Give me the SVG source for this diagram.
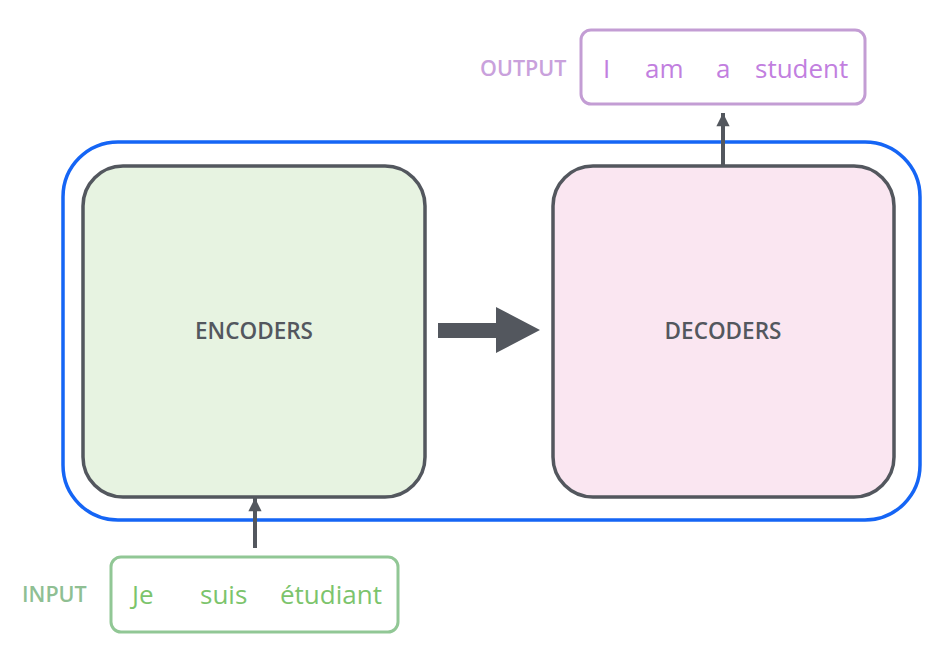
<svg xmlns="http://www.w3.org/2000/svg" width="948" height="646" viewBox="0 0 948 646">
<style>
.box{stroke:#53575e;stroke-width:3.5}
.lbl{font-family:"Open Sans","Liberation Sans",sans-serif;font-weight:600;font-size:22.5px;fill:#53575e;text-anchor:middle}
.word{font-family:"Open Sans","Liberation Sans",sans-serif;font-size:26px}
.out{fill:#c27fdf}
.in{fill:#7cc46c}
.side{font-family:"Open Sans","Liberation Sans",sans-serif;font-weight:600;font-size:21.5px}
.conn{stroke:#53575e;fill:none}
</style>
<defs>
<marker id="ah" viewBox="0 0 10 10" refX="10" refY="5" markerWidth="3.5" markerHeight="3.3" orient="auto" markerUnits="strokeWidth">
<path d="M0,0 L10,5 L0,10 z" fill="#53575e"/>
</marker>
</defs>
<rect width="948" height="646" fill="#ffffff"/>
<g id="transformer">
<rect x="63" y="142" width="857" height="378" rx="55" fill="none" stroke="#1565f5" stroke-width="3.5"/>
</g>
<g id="encoders">
<rect class="box" x="83" y="166" width="342" height="331" rx="40" fill="#e7f3e1"/>
<text class="lbl" x="254" y="339">ENCODERS</text>
</g>
<g id="decoders">
<rect class="box" x="553" y="166" width="341" height="331" rx="40" fill="#fae6f1"/>
<text class="lbl" x="723" y="339">DECODERS</text>
</g>
<g id="output">
<text class="side" x="480" y="76" fill="#c9a1dc">OUTPUT</text>
<rect x="581" y="30" width="284" height="74" rx="10" fill="#ffffff" stroke="#c39dd4" stroke-width="3"/>
<text class="word out" x="603" y="78">I</text>
<text class="word out" x="645" y="78">am</text>
<text class="word out" x="716" y="78">a</text>
<text class="word out" x="755" y="78">student</text>
</g>
<g id="input">
<text class="side" x="22" y="602" fill="#8fbf93">INPUT</text>
<rect x="111" y="557" width="287" height="75" rx="10" fill="#ffffff" stroke="#91c795" stroke-width="3"/>
<text class="word in" x="132" y="604">Je</text>
<text class="word in" x="200" y="604">suis</text>
<text class="word in" x="280" y="604">étudiant</text>
</g>
<g id="connectors">
<line class="conn" x1="723" y1="166" x2="723" y2="113" stroke-width="4" marker-end="url(#ah)"/>
<line class="conn" x1="255" y1="548" x2="255" y2="498" stroke-width="4" marker-end="url(#ah)"/>
<path d="M438,323 L496,323 L496,307 L540,330 L496,353 L496,338 L438,338 z" fill="#53575e"/>
</g>
</svg>
